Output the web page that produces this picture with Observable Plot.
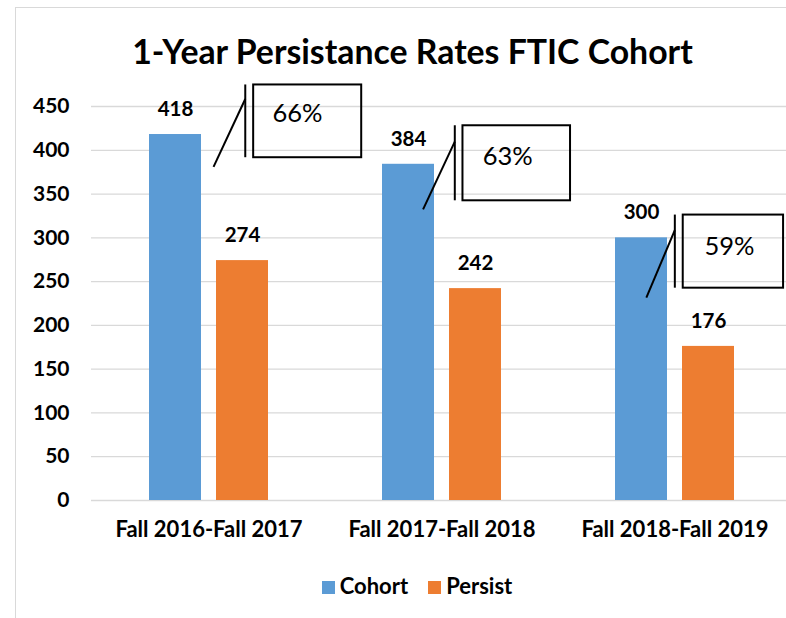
<!DOCTYPE html>
<html><head><meta charset="utf-8">
<script src="https://cdn.jsdelivr.net/npm/d3@7"></script>
<script src="https://cdn.jsdelivr.net/npm/@observablehq/plot@0.6"></script>
<style>
html,body{margin:0;padding:0;background:#fff;overflow:hidden;}
#wrap{position:relative;width:786px;height:618px;overflow:hidden;font-family:Lato,"Open Sans",sans-serif;color:#000;}
#frame{position:absolute;left:15px;top:7px;width:800px;height:700px;border:1px solid #d9d9d9;box-sizing:border-box;}
.layer{position:absolute;left:0;top:0;width:791px;height:618px;}
#title{position:absolute;left:0;width:825px;top:29px;text-align:center;font-weight:bold;font-size:33.8px;line-height:44px;white-space:nowrap;}
#legend{position:absolute;left:0;width:834px;top:573px;text-align:center;font-weight:bold;font-size:22px;line-height:26px;white-space:nowrap;}
#legend .item{display:inline-block;margin:0 10px;}
#legend .sw{display:inline-block;width:13px;height:13px;margin-right:5px;vertical-align:0px;}
</style>
</head><body>
<div id="wrap">
  <div id="frame"></div>
  <div class="layer" id="layerGrid"></div>
  <div class="layer" id="layerBars"></div>
  <div class="layer" id="layerNotes"></div>
  <div id="title">1-Year Persistance Rates FTIC Cohort</div>
  <div id="legend"></div>
</div>
<script>
// ---- data ----
const categories = ["Fall 2016-Fall 2017", "Fall 2017-Fall 2018", "Fall 2018-Fall 2019"];
const series = ["Cohort", "Persist"];
const cohort = [418, 384, 300];
const persist = [274, 242, 176];
const yTicks = [0, 50, 100, 150, 200, 250, 300, 350, 400, 450];
const colors = ["#5B9BD5", "#ED7D31"];

// ---- callout placement (category-index units on x, value units on y) ----
const boxX1 = [0.195, 1.092, 2.036];
const boxX2 = [0.658, 1.553, 2.466];
const boxTop = [474.6, 428.0, 326.0];
const boxBottom = [391.5, 342.3, 242.5];
const barX = [0.159, 1.057, 2.0];
const leaderX = [0.023, 0.921, 1.878];
const leaderY1 = [381.0, 332.5, 231.8];
const leaderY2 = [458.6, 409.8, 308.8];
const noteX = [0.383, 1.284, 2.234];
const noteY = [441.4, 392.6, 289.7];

const rows = [];
categories.forEach((c, i) => {
  rows.push({cat: c, series: "Cohort", value: cohort[i]});
  rows.push({cat: c, series: "Persist", value: persist[i]});
});
const notes = categories.map((c, i) => ({
  i, x1: boxX1[i], x2: boxX2[i], top: boxTop[i], bottom: boxBottom[i],
  bx: barX[i], lx: leaderX[i], ly1: leaderY1[i], ly2: leaderY2[i],
  tx: noteX[i], ty: noteY[i],
  text: Math.round(persist[i] / cohort[i] * 100) + "%"
}));

const common = {
  width: 791, height: 618,
  marginLeft: 91, marginRight: 0, marginTop: 106, marginBottom: 118,
  style: "background:transparent;max-width:none;overflow:visible;font-family:Lato,'Open Sans',sans-serif;color:#000;"
};

// grid + y axis
const gridPlot = Plot.plot({
  ...common,
  y: {domain: [0, 450]},
  marks: [
    Plot.gridY(yTicks, {stroke: "#d9d9d9", strokeOpacity: 1, strokeWidth: 1.3}),
    Plot.axisY(yTicks, {tickSize: 0, tickPadding: 22, fontSize: 21, fontWeight: "bold", fill: "#000", label: null})
  ]
});
document.getElementById("layerGrid").appendChild(gridPlot);

// bars
const barPlot = Plot.plot({
  ...common,
  fx: {domain: categories, paddingInner: 0.49, paddingOuter: 0.245, label: null},
  x: {domain: series, paddingInner: 0.224, paddingOuter: 0, axis: null},
  y: {domain: [0, 450], axis: null},
  color: {domain: series, range: colors},
  marks: [
    Plot.barY(rows, {fx: "cat", x: "series", y: "value", fill: "series"}),
    Plot.text(rows, {fx: "cat", x: "series", y: "value", text: d => String(d.value), dy: -25, fontSize: 20.5, fontWeight: "bold", fill: "#000"}),
    Plot.axisFx({anchor: "bottom", tickSize: 0, tickPadding: 21, fontSize: 22, fontWeight: "bold", fill: "#000", label: null})
  ]
});
document.getElementById("layerBars").appendChild(barPlot);

// callouts
const notePlot = Plot.plot({
  ...common,
  x: {domain: [-0.5, 2.5], axis: null},
  y: {domain: [0, 450], axis: null},
  marks: [
    Plot.rect(notes, {x1: "x1", x2: "x2", y1: "bottom", y2: "top", fill: "none", stroke: "#000", strokeWidth: 2}),
    Plot.ruleX(notes, {x: "bx", y1: "bottom", y2: "top", stroke: "#000", strokeWidth: 2}),
    Plot.link(notes, {x1: "lx", y1: "ly1", x2: "bx", y2: "ly2", stroke: "#000", strokeWidth: 2}),
    Plot.text(notes, {x: "tx", y: "ty", text: "text", fontSize: 25.5, fill: "#000", fontWeight: "normal"})
  ]
});
document.getElementById("layerNotes").appendChild(notePlot);

// legend
const legend = document.getElementById("legend");
series.forEach((s, i) => {
  const item = document.createElement("span");
  item.className = "item";
  const sw = document.createElement("span");
  sw.className = "sw";
  sw.style.background = colors[i];
  item.appendChild(sw);
  item.appendChild(document.createTextNode(s));
  legend.appendChild(item);
});
</script>
</body></html>
